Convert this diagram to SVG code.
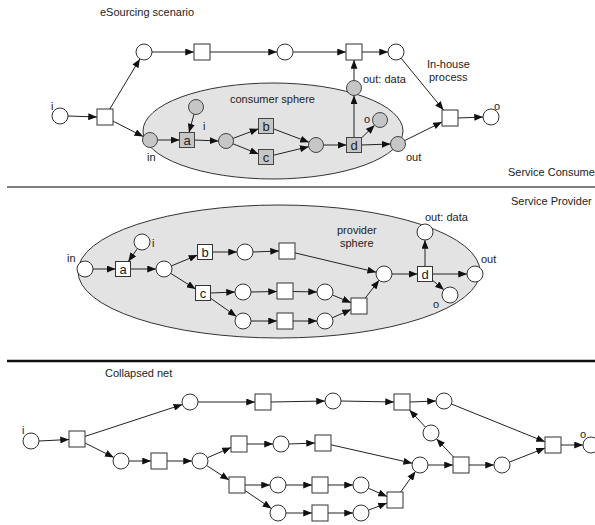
<svg xmlns="http://www.w3.org/2000/svg" width="595" height="525" viewBox="0 0 595 525">
  <style>
    .pw { fill: #ffffff; stroke: #333333; stroke-width: 1; }
    .pg { fill: #c6c6c6; stroke: #444444; stroke-width: 1; }
    .sphere { fill: #e3e3e3; stroke: #333333; stroke-width: 1; }
    .arc { fill: none; stroke: #222222; stroke-width: 1; marker-end: url(#arrow); }
    text { font-family: "Liberation Sans", Arial, sans-serif; fill: #222222; font-size: 11px; }
    .nl { font-size: 13px; text-anchor: middle; }
  </style>
  <defs>
    <marker id="arrow" viewBox="0 0 10 8" markerWidth="9" markerHeight="7" refX="10" refY="4" orient="auto" markerUnits="userSpaceOnUse">
      <path d="M0,0 L10,4 L0,8 Z" fill="#111111"/>
    </marker>
  </defs>

  <rect width="595" height="525" fill="#ffffff"/>

  <!-- section headings and separators -->
  <text x="100" y="16">eSourcing scenario</text>
  <text x="508" y="176">Service Consume</text>
  <line x1="7" y1="187" x2="595" y2="187" stroke="#555555" stroke-width="1.4"/>
  <text x="511" y="205">Service Provider</text>
  <line x1="7" y1="361" x2="595" y2="361" stroke="#111111" stroke-width="2.7"/>
  <text x="105" y="377">Collapsed net</text>

  <!-- spheres -->
  <ellipse id="consumer-sphere" class="sphere" cx="273" cy="131" rx="130" ry="48"/>
  <text x="230" y="103">consumer sphere</text>
  <ellipse id="provider-sphere" class="sphere" cx="279" cy="271.5" rx="201" ry="66.5"/>
  <text x="337" y="234">provider</text>
  <text x="340" y="247">sphere</text>

  <!-- connectors -->
  <g id="connectors">
    <!-- eSourcing scenario -->
    <line class="arc" x1="68" y1="116" x2="97" y2="117"/>
    <line class="arc" x1="109.8" y1="109" x2="139.9" y2="58.9"/>
    <line class="arc" x1="113" y1="121.1" x2="143.3" y2="136.6"/>
    <line class="arc" x1="152" y1="52" x2="194" y2="52"/>
    <line class="arc" x1="210" y1="52" x2="277" y2="52"/>
    <line class="arc" x1="293" y1="52" x2="346" y2="52"/>
    <line class="arc" x1="362" y1="52" x2="388" y2="52"/>
    <line class="arc" x1="401.1" y1="58.2" x2="443.5" y2="110"/>
    <line class="arc" x1="458" y1="118" x2="483" y2="117"/>
    <line class="arc" x1="404.7" y1="140.6" x2="442" y2="122"/>
    <line class="arc" x1="157.5" y1="140" x2="179.5" y2="140"/>
    <line class="arc" x1="194" y1="114.2" x2="189" y2="132.5"/>
    <line class="arc" x1="194.5" y1="140" x2="218.5" y2="141"/>
    <line class="arc" x1="233" y1="138.4" x2="258.5" y2="128.8"/>
    <line class="arc" x1="233" y1="143.8" x2="258.5" y2="154"/>
    <line class="arc" x1="273.5" y1="128.9" x2="309" y2="142.3"/>
    <line class="arc" x1="273.5" y1="155.2" x2="308.7" y2="146.7"/>
    <line class="arc" x1="323.5" y1="145" x2="346.5" y2="145"/>
    <line class="arc" x1="361.5" y1="145" x2="390.5" y2="144"/>
    <line class="arc" x1="354" y1="137.5" x2="354" y2="95.5"/>
    <line class="arc" x1="354" y1="80.5" x2="354" y2="60"/>
    <line class="arc" x1="361.5" y1="138" x2="374.6" y2="125.2"/>

    <!-- provider sphere -->
    <line class="arc" x1="93" y1="269" x2="115.5" y2="269"/>
    <line class="arc" x1="137.4" y1="248.5" x2="128.3" y2="261.5"/>
    <line class="arc" x1="130.5" y1="269" x2="156" y2="269"/>
    <line class="arc" x1="171.4" y1="265.9" x2="197.5" y2="255.1"/>
    <line class="arc" x1="212.5" y1="252" x2="237" y2="252"/>
    <line class="arc" x1="253" y1="252" x2="279" y2="251"/>
    <line class="arc" x1="295" y1="252.9" x2="376.2" y2="272.2"/>
    <line class="arc" x1="170.7" y1="273.3" x2="195.5" y2="289"/>
    <line class="arc" x1="210.5" y1="293" x2="235" y2="292"/>
    <line class="arc" x1="251" y1="292" x2="277" y2="291.5"/>
    <line class="arc" x1="293" y1="291.5" x2="317" y2="292"/>
    <line class="arc" x1="332.4" y1="295" x2="351" y2="302.7"/>
    <line class="arc" x1="210.5" y1="298.2" x2="236.4" y2="316.4"/>
    <line class="arc" x1="251" y1="321" x2="277" y2="321"/>
    <line class="arc" x1="293" y1="321" x2="317" y2="321"/>
    <line class="arc" x1="332.3" y1="317.8" x2="351" y2="309.5"/>
    <line class="arc" x1="365.3" y1="298" x2="379.1" y2="280.3"/>
    <line class="arc" x1="392" y1="274" x2="417.5" y2="274"/>
    <line class="arc" x1="432.5" y1="274" x2="467" y2="274"/>
    <line class="arc" x1="425" y1="266.5" x2="425" y2="240"/>
    <line class="arc" x1="432.5" y1="280.3" x2="443.9" y2="289.8"/>

    <!-- collapsed net -->
    <line class="arc" x1="39" y1="441" x2="69" y2="439.5"/>
    <line class="arc" x1="85" y1="436.4" x2="182.4" y2="404.5"/>
    <line class="arc" x1="85" y1="443" x2="113.8" y2="457.4"/>
    <line class="arc" x1="198" y1="402" x2="255" y2="402"/>
    <line class="arc" x1="271" y1="402" x2="325" y2="401"/>
    <line class="arc" x1="341" y1="401" x2="394" y2="402"/>
    <line class="arc" x1="410" y1="402" x2="436" y2="401"/>
    <line class="arc" x1="451.4" y1="404" x2="545" y2="441.8"/>
    <line class="arc" x1="561" y1="445" x2="583" y2="445"/>
    <line class="arc" x1="129" y1="461" x2="151" y2="461"/>
    <line class="arc" x1="167" y1="461" x2="192" y2="461"/>
    <line class="arc" x1="207.3" y1="457.8" x2="231" y2="447.5"/>
    <line class="arc" x1="206.6" y1="465.5" x2="229" y2="480"/>
    <line class="arc" x1="247" y1="444" x2="273" y2="444"/>
    <line class="arc" x1="289" y1="444" x2="315" y2="443"/>
    <line class="arc" x1="331" y1="444.8" x2="412.2" y2="463.2"/>
    <line class="arc" x1="245" y1="485" x2="270" y2="485"/>
    <line class="arc" x1="286" y1="485" x2="312" y2="485"/>
    <line class="arc" x1="328" y1="485" x2="353" y2="485"/>
    <line class="arc" x1="368.3" y1="488.2" x2="387" y2="496.5"/>
    <line class="arc" x1="245" y1="490.5" x2="271.4" y2="508.5"/>
    <line class="arc" x1="286" y1="513" x2="312" y2="513"/>
    <line class="arc" x1="328" y1="513" x2="353" y2="513"/>
    <line class="arc" x1="368.5" y1="510.1" x2="387" y2="503.1"/>
    <line class="arc" x1="400.7" y1="492" x2="415.4" y2="471.5"/>
    <line class="arc" x1="428" y1="465" x2="453" y2="465"/>
    <line class="arc" x1="453.5" y1="457" x2="436.5" y2="438.8"/>
    <line class="arc" x1="425.5" y1="427.2" x2="409.5" y2="410"/>
    <line class="arc" x1="469" y1="465" x2="494" y2="465"/>
    <line class="arc" x1="509.4" y1="462.1" x2="545" y2="448.1"/>
  </g>

  <!-- eSourcing scenario nodes -->
  <g id="t-i"><circle class="pw" cx="60" cy="116" r="8"/><text x="51" y="110">i</text></g>
  <g id="t-split"><rect class="pw" x="97" y="109" width="16" height="16"/></g>
  <g id="t-p1"><circle class="pw" cx="144" cy="52" r="8"/></g>
  <g id="t-s2"><rect class="pw" x="194" y="44" width="16" height="16"/></g>
  <g id="t-p2"><circle class="pw" cx="285" cy="52" r="8"/></g>
  <g id="t-s3"><rect class="pw" x="346" y="44" width="16" height="16"/></g>
  <g id="t-p3"><circle class="pw" cx="396" cy="52" r="8"/></g>
  <g id="t-join"><rect class="pw" x="442" y="110" width="16" height="16"/></g>
  <g id="t-o"><circle class="pw" cx="491" cy="117" r="8"/><text x="494" y="110">o</text></g>
  <g id="inhouse-label"><text x="427" y="68">In-house</text><text x="429" y="81">process</text></g>

  <!-- consumer sphere nodes -->
  <g id="c-in"><circle class="pg" cx="150" cy="140" r="7.5"/><text x="147" y="161">in</text></g>
  <g id="c-i"><circle class="pg" cx="196" cy="107" r="7.5"/><text x="203" y="130">i</text></g>
  <g id="c-a"><rect class="pg" x="179.5" y="132.5" width="15" height="15"/><text class="nl" x="187" y="144.5">a</text></g>
  <g id="c-p1"><circle class="pg" cx="226" cy="141" r="7.5"/></g>
  <g id="c-b"><rect class="pg" x="258.5" y="118.5" width="15" height="15"/><text class="nl" x="266" y="130.5">b</text></g>
  <g id="c-c"><rect class="pg" x="258.5" y="149.5" width="15" height="15"/><text class="nl" x="266" y="161.5">c</text></g>
  <g id="c-p2"><circle class="pg" cx="316" cy="145" r="7.5"/></g>
  <g id="c-d"><rect class="pg" x="346.5" y="137.5" width="15" height="15"/><text class="nl" x="354" y="149.5">d</text></g>
  <g id="c-outdata"><circle class="pg" cx="354" cy="88" r="7.5"/><text x="363" y="83">out: data</text></g>
  <g id="c-o"><circle class="pg" cx="380" cy="120" r="7.5"/><text x="364" y="123">o</text></g>
  <g id="c-out"><circle class="pg" cx="398" cy="144" r="7.5"/><text x="406" y="161">out</text></g>

  <!-- provider sphere nodes -->
  <g id="m-in"><circle class="pw" cx="85" cy="269" r="8"/><text x="67" y="262">in</text></g>
  <g id="m-i"><circle class="pw" cx="142" cy="242" r="8"/><text x="152" y="247">i</text></g>
  <g id="m-a"><rect class="pw" x="115.5" y="261.5" width="15" height="15"/><text class="nl" x="123" y="273.5">a</text></g>
  <g id="m-p1"><circle class="pw" cx="164" cy="269" r="8"/></g>
  <g id="m-b"><rect class="pw" x="197.5" y="244.5" width="15" height="15"/><text class="nl" x="205" y="256.5">b</text></g>
  <g id="m-p2"><circle class="pw" cx="245" cy="252" r="8"/></g>
  <g id="m-s2"><rect class="pw" x="279" y="243" width="16" height="16"/></g>
  <g id="m-c"><rect class="pw" x="195.5" y="285.5" width="15" height="15"/><text class="nl" x="203" y="297.5">c</text></g>
  <g id="m-p3"><circle class="pw" cx="243" cy="292" r="8"/></g>
  <g id="m-s3"><rect class="pw" x="277" y="283" width="16" height="16"/></g>
  <g id="m-p4"><circle class="pw" cx="325" cy="292" r="8"/></g>
  <g id="m-p5"><circle class="pw" cx="243" cy="321" r="8"/></g>
  <g id="m-s5"><rect class="pw" x="277" y="313" width="16" height="16"/></g>
  <g id="m-p6"><circle class="pw" cx="325" cy="321" r="8"/></g>
  <g id="m-join"><rect class="pw" x="351" y="298" width="16" height="16"/></g>
  <g id="m-p7"><circle class="pw" cx="384" cy="274" r="8"/></g>
  <g id="m-d"><rect class="pw" x="417.5" y="266.5" width="15" height="15"/><text class="nl" x="425" y="278.5">d</text></g>
  <g id="m-outdata"><circle class="pw" cx="425" cy="232" r="8"/><text x="425" y="221">out: data</text></g>
  <g id="m-out"><circle class="pw" cx="475" cy="274" r="8"/><text x="481" y="263">out</text></g>
  <g id="m-o"><circle class="pw" cx="450" cy="295" r="8"/><text x="433" y="308">o</text></g>

  <!-- collapsed net nodes -->
  <g id="b-i"><circle class="pw" cx="31" cy="441" r="8"/><text x="22" y="434">i</text></g>
  <g id="b-s1"><rect class="pw" x="69" y="431" width="16" height="16"/></g>
  <g id="b-p1"><circle class="pw" cx="190" cy="402" r="8"/></g>
  <g id="b-s2"><rect class="pw" x="255" y="394" width="16" height="16"/></g>
  <g id="b-p2"><circle class="pw" cx="333" cy="401" r="8"/></g>
  <g id="b-s3"><rect class="pw" x="394" y="394" width="16" height="16"/></g>
  <g id="b-p3"><circle class="pw" cx="444" cy="401" r="8"/></g>
  <g id="b-loop"><circle class="pw" cx="431" cy="433" r="8"/></g>
  <g id="b-q1"><circle class="pw" cx="121" cy="461" r="8"/></g>
  <g id="b-s4"><rect class="pw" x="151" y="453" width="16" height="16"/></g>
  <g id="b-q2"><circle class="pw" cx="200" cy="461" r="8"/></g>
  <g id="b-s5"><rect class="pw" x="231" y="436" width="16" height="16"/></g>
  <g id="b-q3"><circle class="pw" cx="281" cy="444" r="8"/></g>
  <g id="b-s6"><rect class="pw" x="315" y="435" width="16" height="16"/></g>
  <g id="b-s7"><rect class="pw" x="229" y="477" width="16" height="16"/></g>
  <g id="b-q4"><circle class="pw" cx="278" cy="485" r="8"/></g>
  <g id="b-s8"><rect class="pw" x="312" y="477" width="16" height="16"/></g>
  <g id="b-q5"><circle class="pw" cx="361" cy="485" r="8"/></g>
  <g id="b-q6"><circle class="pw" cx="278" cy="513" r="8"/></g>
  <g id="b-s9"><rect class="pw" x="312" y="505" width="16" height="16"/></g>
  <g id="b-q7"><circle class="pw" cx="361" cy="513" r="8"/></g>
  <g id="b-join"><rect class="pw" x="387" y="492" width="16" height="16"/></g>
  <g id="b-m"><circle class="pw" cx="420" cy="465" r="8"/></g>
  <g id="b-s10"><rect class="pw" x="453" y="457" width="16" height="16"/></g>
  <g id="b-q8"><circle class="pw" cx="502" cy="465" r="8"/></g>
  <g id="b-sf"><rect class="pw" x="545" y="437" width="16" height="16"/></g>
  <g id="b-o"><circle class="pw" cx="591" cy="445" r="8"/><text x="580" y="438">o</text></g>
</svg>
